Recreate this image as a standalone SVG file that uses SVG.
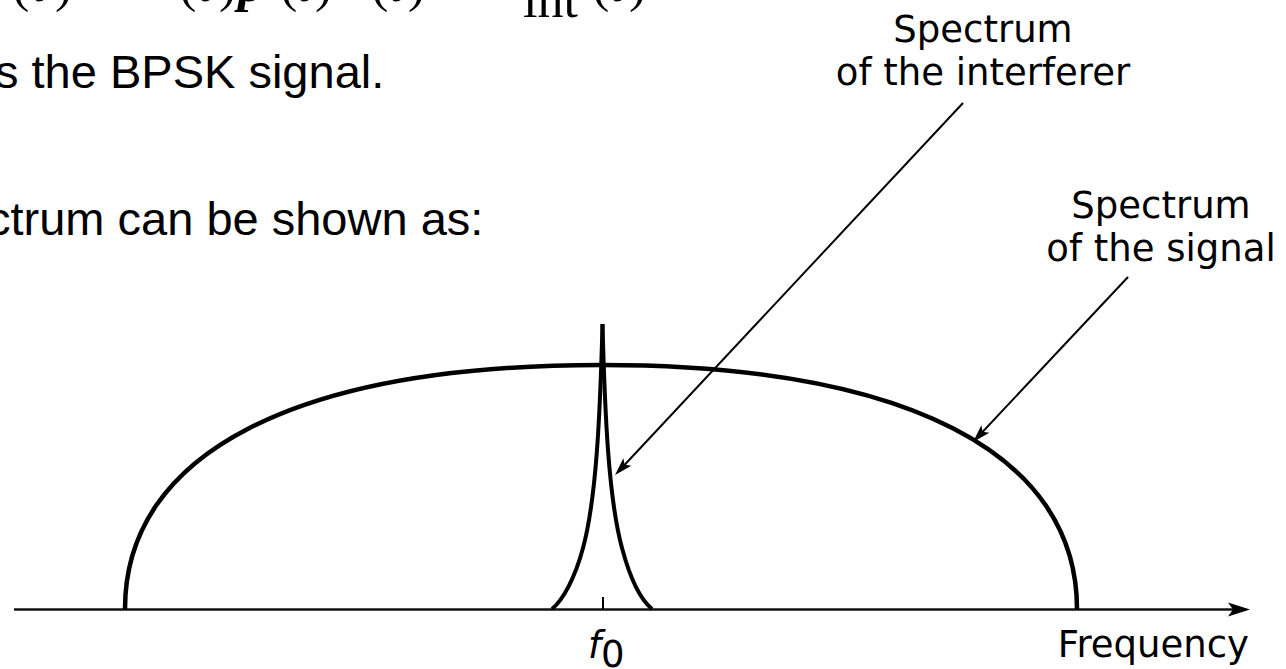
<svg xmlns="http://www.w3.org/2000/svg" width="1286" height="669" viewBox="0 0 1286 669">
<style>
.eq{font-family:"Liberation Serif","Times New Roman",serif;font-size:52px;fill:#000}
.body{font-family:"Liberation Sans",Arial,sans-serif;font-size:47px;fill:#000}
.lbl{font-family:"DejaVu Sans","Liberation Sans",sans-serif;font-size:37px;fill:#000}
.thick{fill:none;stroke:#000;stroke-width:4.5}
.spike{fill:none;stroke:#000;stroke-width:4}
.pointer{fill:none;stroke:#000;stroke-width:2}
.axis{fill:none;stroke:#111;stroke-width:2.5}
</style>
<defs>
<marker id="ah" markerUnits="userSpaceOnUse" markerWidth="20" markerHeight="12" orient="auto" refX="-8" refY="0" overflow="visible"><path d="M0,0 L-18,-5.5 L-14,0 L-18,5.5 Z" fill="#000"/></marker>
<marker id="axh" markerUnits="userSpaceOnUse" markerWidth="24" markerHeight="16" orient="auto" refX="-10" refY="0" overflow="visible"><path d="M0,0 L-22,-7 L-17,0 L-22,7 Z" fill="#000"/></marker>
</defs>
<rect width="1286" height="669" fill="#fff"/>
<g id="equation">
<text class="eq" y="1"><tspan x="-14" font-style="italic">y</tspan><tspan x="12">(</tspan><tspan x="32" font-style="italic">t</tspan><tspan x="55">)</tspan><tspan x="179">(</tspan><tspan x="198" font-style="italic">t</tspan><tspan x="219">)</tspan><tspan x="238" font-style="italic" font-weight="bold">p</tspan><tspan x="280">(</tspan><tspan x="297" font-style="italic">t</tspan><tspan x="315">)</tspan><tspan x="371">(</tspan><tspan x="389" font-style="italic">t</tspan><tspan x="408">)</tspan><tspan x="592">(</tspan><tspan x="610" font-style="italic">t</tspan><tspan x="629">)</tspan></text>
<text class="eq" x="523" y="17" font-size="34">int</text>
</g>
<g id="text-lines">
<text class="body" x="-5" y="88">s the BPSK signal.</text>
<text class="body" x="-13" y="235">ctrum can be shown as:</text>
</g>
<g id="label-interferer">
<text class="lbl" x="983" y="42" text-anchor="middle">Spectrum</text>
<text class="lbl" x="983" y="85" text-anchor="middle">of the interferer</text>
</g>
<g id="label-signal">
<text class="lbl" x="1161" y="218" text-anchor="middle">Spectrum</text>
<text class="lbl" x="1161" y="261" text-anchor="middle">of the signal</text>
</g>
<g id="axis">
<line class="axis" x1="14" y1="609.5" x2="1240" y2="609.5" marker-end="url(#axh)"/>
<line x1="603" y1="597" x2="603" y2="609" stroke="#000" stroke-width="2"/>
<text class="lbl" x="588" y="658" font-style="italic">f</text>
<text class="lbl" x="601" y="667" font-size="27">0</text>
<text class="lbl" x="1249" y="657" text-anchor="end">Frequency</text>
</g>
<g id="signal-spectrum">
<path class="thick" d="M125,609 C125,453 296,365 601,365 C906,365 1077,453 1077,609"/>
</g>
<g id="interferer-spectrum">
<path class="spike" d="M602.5,324 C600,420 596,500 583,548 C575,578 563,600 552,609"/>
<path class="spike" d="M602.5,324 C605,420 609,500 622,548 C630,578 641,600 652,609"/>
</g>
<g id="connectors">
<line class="pointer" x1="963" y1="103" x2="620.5" y2="469.2" marker-end="url(#ah)"/>
<line class="pointer" x1="1128" y1="277" x2="978.5" y2="436.2" marker-end="url(#ah)"/>
</g>
</svg>
